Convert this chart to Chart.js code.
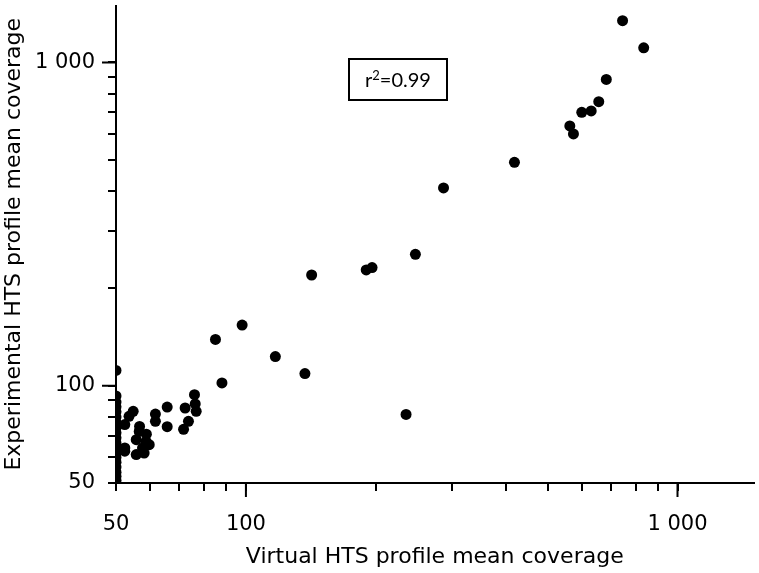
<!DOCTYPE html>
<html lang="en">
<head>
  <meta charset="UTF-8" />
  <title>Virtual vs experimental HTS profile coverage</title>
  <script src="https://cdn.jsdelivr.net/npm/chart.js"></script>
  <style>
    body {
      margin: 0;
      background: #fff;
    }
    #wrap {
      width: 759px;
      height: 573px;
    }
  </style>
</head>
<body>
  <div id="wrap"><canvas id="scatter" width="759" height="573"></canvas></div>

  <script>
    // mean coverage per profile (virtual = x, experimental = y)
    const virtualCov = [
      746, 835, 684, 657, 631, 600, 563, 574, 419, 287,
      247, 190, 196, 142, 98, 85, 117, 137, 88, 235, 50,
      54.8, 53.6, 52.4, 61.7, 61.7, 65.7, 65.7, 72.3, 73.6, 71.7,
      76.0, 76.3, 76.7, 56.7, 56.6, 58.8, 55.7, 58.7, 59.7, 57.6,
      55.7, 58.1, 52.4, 52.4,
      50, 50, 50, 50, 50, 50, 50, 50, 50, 50, 50, 50, 50, 50, 50, 50, 50, 50
    ];
    const experimentalCov = [
      1346, 1110, 886, 756, 708, 701, 636, 601, 491, 409,
      255, 228, 232, 220, 154, 139, 123, 109, 102, 81.5, 111.5,
      83.3, 80.4, 75.8, 81.7, 77.6, 85.9, 74.7, 85.3, 77.6, 73.3,
      93.8, 87.8, 83.3, 74.8, 72.2, 70.8, 68.1, 67.3, 65.7, 64.2,
      61.2, 61.9, 64.2, 62.7,
      93, 89, 86, 83, 80, 77, 74, 71.5, 69, 66.5, 64, 62, 60, 58, 56, 54, 52.5, 51
    ];

    const tickValues = [50, 60, 70, 80, 90, 100, 200, 300, 400, 500, 600, 700, 800, 900, 1000];
    const tickLabels = { 50: '50', 100: '100', 1000: '1 000' };
    const longTicks = [100, 1000];

    const xTitle = 'Virtual HTS profile mean coverage';
    const yTitle = 'Experimental HTS profile mean coverage';
    const fitNote = ['r', '2', '=0.99'];
    const fitNoteAt = [225, 890];

    const axisFont = { family: 'DejaVu Sans', size: 21 };
    const titleFont = { family: 'DejaVu Sans', size: 22 };

    function logAxis(pos, title, pad, titlePad) {
      return {
        type: 'logarithmic',
        position: pos,
        min: 50,
        max: 1500,
        afterBuildTicks: s => { s.ticks = tickValues.map(v => ({ value: v })); },
        afterFit: s => {
          if (pos === 'bottom') s.height = 90; else s.width = 116;
          // labels are nowhere near the ends, no edge padding needed
          s.paddingTop = s.paddingBottom = s.paddingLeft = s.paddingRight = 0;
        },
        grid: { drawOnChartArea: false, tickLength: 8, lineWidth: 2, color: '#000' },
        border: { color: '#000', width: 2 },
        ticks: {
          color: '#000',
          font: axisFont,
          autoSkip: false,
          maxRotation: 0,
          padding: pad,
          callback: v => tickLabels[v] || ''
        },
        title: { display: true, text: title, color: '#000', font: titleFont, padding: titlePad }
      };
    }

    const extras = {
      id: 'extras',
      afterDraw(chart) {
        const { ctx, chartArea: a, scales: { x, y } } = chart;
        ctx.save();
        ctx.strokeStyle = '#000';
        ctx.lineWidth = 2;
        ctx.beginPath();
        longTicks.forEach(v => {
          const px = x.getPixelForValue(v);
          ctx.moveTo(px, a.bottom);
          ctx.lineTo(px, a.bottom + 14);
          const py = y.getPixelForValue(v);
          ctx.moveTo(a.left, py);
          ctx.lineTo(a.left - 14, py);
        });
        ctx.stroke();

        // r^2 box
        const cx = Math.round(x.getPixelForValue(fitNoteAt[0]));
        const cy = Math.round(y.getPixelForValue(fitNoteAt[1]));
        ctx.strokeRect(cx - 49, cy - 20, 98, 41);
        const big = '20px Lato', small = '13px Lato';
        ctx.font = big;
        const w0 = ctx.measureText(fitNote[0]).width;
        const w2 = ctx.measureText(fitNote[2]).width;
        ctx.font = small;
        const w1 = ctx.measureText(fitNote[1]).width;
        let tx = cx - (w0 + w1 + w2) / 2;
        const base = cy + 8;
        ctx.fillStyle = '#000';
        ctx.textBaseline = 'alphabetic';
        ctx.font = big;
        ctx.fillText(fitNote[0], tx, base);
        tx += w0;
        ctx.font = small;
        ctx.fillText(fitNote[1], tx, base - 7);
        tx += w1;
        ctx.font = big;
        ctx.fillText(fitNote[2], tx, base);
        ctx.restore();
      }
    };

    new Chart(document.getElementById('scatter'), {
      type: 'scatter',
      data: {
        datasets: [{
          data: virtualCov.map((v, i) => ({ x: v, y: experimentalCov[i] })),
          backgroundColor: '#000',
          borderWidth: 0,
          pointRadius: 5.5
        }]
      },
      options: {
        responsive: false,
        animation: false,
        layout: { padding: { top: 3, right: 0, left: 0, bottom: 0 } },
        plugins: { legend: { display: false }, tooltip: { enabled: false } },
        scales: {
          x: logAxis('bottom', xTitle, 21, { top: 0, bottom: 3 }),
          y: logAxis('left', yTitle, 13, { top: 1, bottom: 0 })
        }
      },
      plugins: [extras]
    });
  </script>
</body>
</html>
